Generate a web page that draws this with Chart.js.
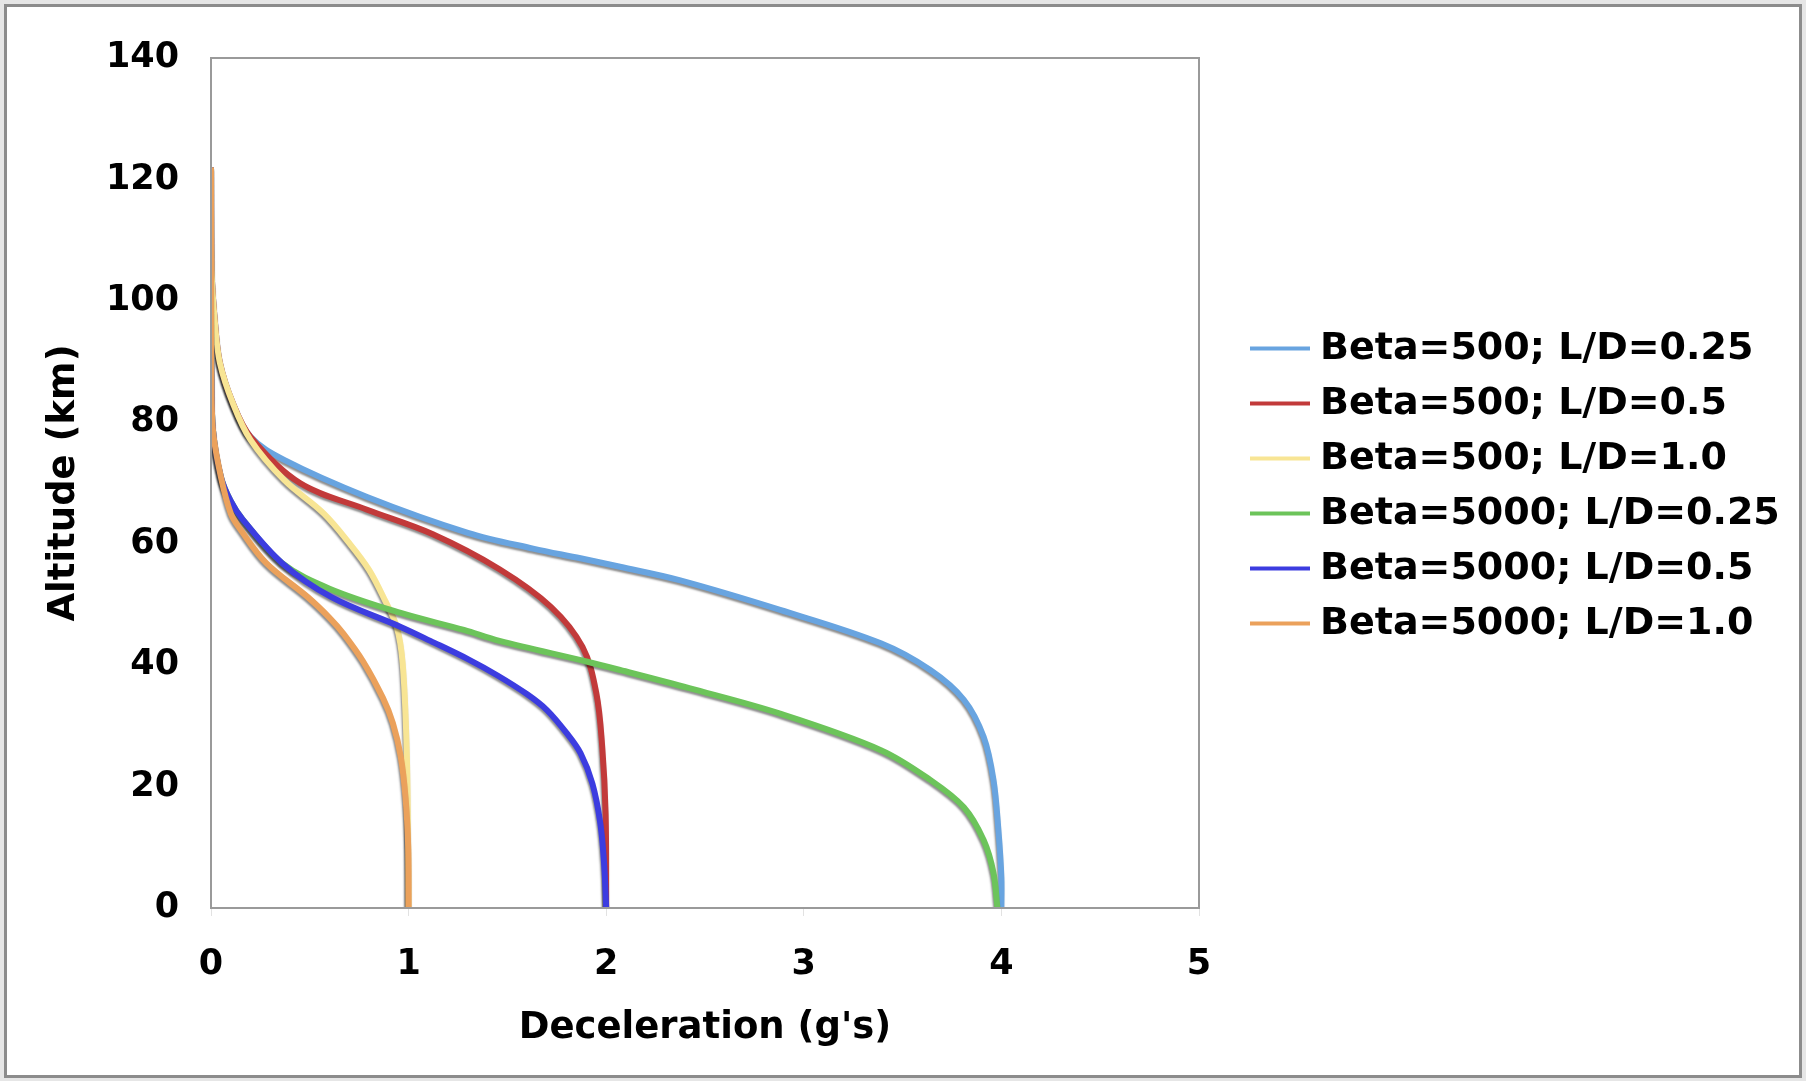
<!DOCTYPE html>
<html>
<head>
<meta charset="utf-8">
<script src="https://cdn.jsdelivr.net/npm/chart.js@4.4.1/dist/chart.umd.min.js"></script>
<style>
  html, body { margin: 0; padding: 0; background: #e6e6e6; }
  #frame { position: absolute; left: 4px; top: 4px; width: 1792px; height: 1068px; border: 3px solid #8c8c8c; background: #fff; }
  #wrap { position: absolute; left: 0; top: 0; width: 1806px; height: 1081px; }
</style>
</head>
<body>
<div id="frame"></div>
<div id="wrap"><canvas id="chart"></canvas></div>
<script>
// series labels + colours
const seriesNames = ['Beta=500; L/D=0.25', 'Beta=500; L/D=0.5', 'Beta=500; L/D=1.0',
  'Beta=5000; L/D=0.25', 'Beta=5000; L/D=0.5', 'Beta=5000; L/D=1.0'];
const seriesColors = ['#68a4e0', '#c23a3a', '#f8e594', '#6cc45a', '#3c3ce0', '#eba15b'];

// deceleration (g's) and altitude (km)
const g500_025 = [0, 0.003, 0.02, 0.045, 0.11, 0.2, 0.37, 0.79, 1.3, 1.63, 1.87, 2.07, 2.37, 2.88, 3.39, 3.64, 3.81, 3.91, 3.96, 3.985, 4.0, 4.0];
const alt500_025 = [122, 105, 96.4, 89.8, 83.2, 77.6, 73.8, 67.7, 61.8, 59.2, 57.6, 56.2, 54, 49.1, 43.6, 39.2, 34.3, 28.2, 21.1, 12.8, 5, 0];

const g500_05 = [0, 0.003, 0.02, 0.045, 0.11, 0.2, 0.45, 0.79, 1.12, 1.46, 1.72, 1.88, 1.95, 1.98, 1.997, 2.0];
const alt500_05 = [122, 105, 96.4, 89.8, 83.2, 77.6, 70, 65.6, 61.6, 55.8, 49.6, 43, 35.4, 26.5, 15.6, 0];

const g500_10 = [0, 0.003, 0.02, 0.045, 0.11, 0.2, 0.37, 0.57, 0.7, 0.8, 0.88, 0.94, 0.97, 0.99, 0.998, 1.0];
const alt500_10 = [122, 105, 96.4, 89.8, 83.2, 77.1, 70.5, 65, 60.1, 55.7, 50.7, 46.3, 40.3, 26.5, 10, 0];

const g5000_025 = [0, 0, 0.002, 0.01, 0.05, 0.1, 0.16, 0.36, 0.6, 0.96, 1.28, 1.46, 1.9, 2.07, 2.42, 2.88, 3.39, 3.64, 3.81, 3.91, 3.96, 3.98];
const alt5000_025 = [122, 100, 88, 78.7, 71, 67, 64, 56.8, 52.6, 48.6, 45.8, 44.0, 40.6, 39.2, 36.2, 32.0, 26, 21.1, 16.6, 11.2, 5.8, 0];

const g5000_05 = [0, 0, 0.002, 0.01, 0.05, 0.1, 0.16, 0.36, 0.61, 0.96, 1.11, 1.3, 1.45, 1.6, 1.7, 1.8, 1.87, 1.93, 1.97, 1.99, 2.0];
const alt5000_05 = [122, 100, 88, 78.7, 71, 67, 64, 56.8, 51.2, 46.3, 44.0, 41.0, 38.3, 35.2, 32.6, 28.8, 25.5, 20.5, 14, 7, 0];

const g5000_10 = [0, 0, 0.002, 0.01, 0.05, 0.1, 0.15, 0.28, 0.49, 0.6, 0.67, 0.77, 0.87, 0.92, 0.96, 0.985, 0.998, 1.0];
const alt5000_10 = [122, 100, 88, 78.7, 71, 65, 62.3, 56.8, 51.2, 47.8, 45.2, 40.6, 34.6, 30.5, 25, 18, 10, 0];

const xTicks = [0, 1, 2, 3, 4, 5];
const yTicks = [0, 20, 40, 60, 80, 100, 120, 140];

const allG = [g500_025, g500_05, g500_10, g5000_025, g5000_05, g5000_10];
const allAlt = [alt500_025, alt500_05, alt500_10, alt5000_025, alt5000_05, alt5000_10];

const font = 'DejaVu Sans';

const datasets = seriesNames.map((name, i) => ({
  label: name,
  data: allG[i].map((g, k) => ({ x: g, y: allAlt[i][k] })),
  borderColor: seriesColors[i],
  backgroundColor: seriesColors[i],
  borderWidth: 6,
  pointRadius: 0,
  fill: false,
  tension: 0.35,
  order: seriesNames.length - i   // later series on top, like the original
}));

// gray drop shadow under the curves
const shadowPlugin = {
  id: 'shadow',
  beforeDatasetsDraw(chart) {
    const ctx = chart.ctx;
    ctx.save();
    ctx.shadowColor = 'rgba(0,0,0,0.45)';
    ctx.shadowOffsetX = -1;
    ctx.shadowOffsetY = 2;
    ctx.shadowBlur = 2;
  },
  afterDatasetsDraw(chart) {
    chart.ctx.restore();
  }
};

// box round the plot area
const frameBox = {
  id: 'frameBox',
  afterDraw(chart) {
    const { ctx, chartArea: a } = chart;
    ctx.save();
    ctx.strokeStyle = '#9a9a9a';
    ctx.lineWidth = 2;
    ctx.strokeRect(a.left, a.top, a.right - a.left, a.bottom - a.top);
    ctx.restore();
  }
};

// legend to the right of the plot (built-in one gets squeezed)
const sideLegend = {
  id: 'sideLegend',
  afterDraw(chart) {
    const { ctx, chartArea: a } = chart;
    const rowH = 55, lineLen = 60;
    const x0 = a.right + 51;
    const n = chart.data.datasets.length;
    let y = (a.top + a.bottom) / 2 + 3 - (n - 1) * rowH / 2;
    ctx.save();
    ctx.font = 'bold 38px ' + font;
    ctx.textBaseline = 'middle';
    ctx.fillStyle = '#000';
    chart.data.datasets.forEach(ds => {
      ctx.strokeStyle = ds.borderColor;
      ctx.lineWidth = 4;
      ctx.beginPath();
      ctx.moveTo(x0, y);
      ctx.lineTo(x0 + lineLen, y);
      ctx.stroke();
      ctx.fillText(ds.label, x0 + lineLen + 10, y + 1);
      y += rowH;
    });
    ctx.restore();
  }
};

new Chart(document.getElementById('chart'), {
  type: 'line',
  data: { datasets },
  plugins: [shadowPlugin, frameBox, sideLegend],
  options: {
    responsive: true,
    maintainAspectRatio: false,
    animation: false,
    layout: { padding: { left: 38, top: 58, right: 607, bottom: 26 } },
    plugins: {
      tooltip: { enabled: false },
      legend: { display: false }
    },
    scales: {
      x: {
        type: 'linear',
        min: 0,
        max: 5,
        afterBuildTicks: s => { s.ticks = xTicks.map(v => ({ value: v })); },
        afterFit: s => { s.height = 147; },
        grid: { drawOnChartArea: false, drawTicks: true, tickLength: 8, color: '#e2e2e2' },
        border: { color: '#9a9a9a', width: 2 },
        ticks: { color: '#000', padding: 28, font: { family: font, size: 35, weight: 'bold' } },
        title: {
          display: true,
          text: "Deceleration (g's)",
          color: '#000',
          padding: { top: 20, bottom: 4 },
          font: { family: font, size: 37, weight: 'bold' }
        }
      },
      y: {
        type: 'linear',
        min: 0,
        max: 140,
        afterBuildTicks: s => { s.ticks = yTicks.map(v => ({ value: v })); },
        afterFit: s => { s.width = 173; },
        grid: { display: false, drawTicks: false },
        border: { color: '#9a9a9a', width: 2 },
        ticks: { color: '#000', padding: 32, font: { family: font, size: 35, weight: 'bold' } },
        title: {
          display: true,
          text: 'Altitude (km)',
          color: '#000',
          padding: { top: 4, bottom: 20 },
          font: { family: font, size: 37, weight: 'bold' }
        }
      }
    }
  }
});
</script>
</body>
</html>
